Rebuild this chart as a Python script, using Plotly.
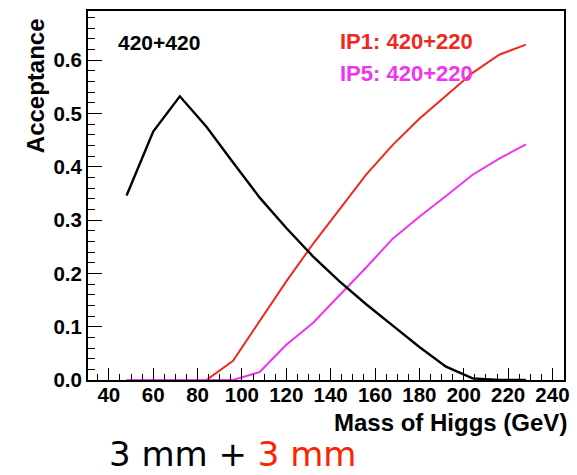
import plotly.graph_objects as go

# Higgs mass points (GeV)
mass = [48, 60, 72, 84, 96, 108, 120, 132, 144, 156, 168, 180, 192, 204, 216, 228]

# Acceptance for each configuration
acc_420_420 = [0.346, 0.466, 0.532, 0.475, 0.408, 0.342, 0.285, 0.232, 0.185, 0.142,
               0.102, 0.062, 0.025, 0.003, 0.0, 0.0]
acc_ip1_420_220 = [0.0, 0.0, 0.0, 0.0, 0.036, 0.110, 0.185, 0.255, 0.320, 0.385,
                   0.441, 0.490, 0.533, 0.576, 0.610, 0.629]
acc_ip5_420_220 = [0.0, 0.0, 0.0, 0.0, 0.0, 0.015, 0.066, 0.107, 0.158, 0.211,
                   0.265, 0.306, 0.345, 0.385, 0.415, 0.442]

x_ticks = [40, 60, 80, 100, 120, 140, 160, 180, 200, 220, 240]
y_ticks = [0.0, 0.1, 0.2, 0.3, 0.4, 0.5, 0.6]

RED = "#f0281e"
MAGENTA = "#f034f0"
FONT = "Liberation Sans, Arial, Helvetica, sans-serif"

fig = go.Figure()
fig.add_trace(go.Scatter(x=mass, y=acc_ip1_420_220, mode="lines",
                         line=dict(color=RED, width=2), name="IP1: 420+220"))
fig.add_trace(go.Scatter(x=mass, y=acc_ip5_420_220, mode="lines",
                         line=dict(color=MAGENTA, width=2), name="IP5: 420+220"))
fig.add_trace(go.Scatter(x=mass, y=acc_420_420, mode="lines",
                         line=dict(color="black", width=2.4), name="420+420"))

fig.update_layout(
    width=577, height=475,
    margin=dict(l=88, r=8, t=11, b=95),
    paper_bgcolor="white", plot_bgcolor="white",
    showlegend=False,
    font=dict(family=FONT, color="black"),
)

fig.update_xaxes(
    range=[30.6, 245.2],
    tickvals=x_ticks, ticktext=[str(v) for v in x_ticks],
    ticks="inside", ticklen=12, tickwidth=1.3, tickcolor="black",
    minor=dict(ticks="inside", dtick=5, tick0=0, ticklen=6, tickwidth=1, tickcolor="black"),
    showline=True, linecolor="black", linewidth=2, mirror=True,
    showgrid=False, zeroline=False,
    ticklabelstandoff=-5,
    tickfont=dict(family=FONT, size=20.5, color="black", weight="bold"),
)
fig.update_yaxes(
    range=[0, 0.692],
    tickvals=y_ticks, ticktext=[f"{v:.1f}" for v in y_ticks],
    ticks="inside", ticklen=14, tickwidth=1.3, tickcolor="black",
    minor=dict(ticks="inside", dtick=0.02, tick0=0, ticklen=7, tickwidth=1, tickcolor="black"),
    showline=True, linecolor="black", linewidth=2, mirror=True,
    showgrid=False, zeroline=False,
    tickfont=dict(family=FONT, size=20.5, color="black", weight="bold"),
)

annotations = [
    dict(text="<b>Acceptance</b>", xref="paper", yref="paper", x=-0.111, y=0.985,
         xanchor="center", yanchor="top", textangle=-90, showarrow=False,
         font=dict(family=FONT, size=24, color="black")),
    dict(text="<b>Mass of Higgs (GeV)</b>", xref="paper", yref="paper", x=1.0, y=-0.073,
         xanchor="right", yanchor="top", showarrow=False, xshift=5,
         font=dict(family=FONT, size=24, color="black")),
    dict(text="<b>420+420</b>", xref="x", yref="y", x=43, y=0.632,
         xanchor="left", yanchor="middle", showarrow=False,
         font=dict(family=FONT, size=21, color="black")),
    dict(text="<b>IP1: 420+220</b>", xref="x", yref="y", x=143.5, y=0.634,
         xanchor="left", yanchor="middle", showarrow=False,
         font=dict(family=FONT, size=22, color=RED)),
    dict(text="<b>IP5: 420+220</b>", xref="x", yref="y", x=143.5, y=0.574,
         xanchor="left", yanchor="middle", showarrow=False,
         font=dict(family=FONT, size=22, color=MAGENTA)),
    dict(text="3 mm + <span style='color:#ff2200'>3 mm</span>", xref="paper", yref="paper",
         x=0.0416, y=-0.2005, xanchor="left", yanchor="middle", showarrow=False,
         borderpad=0,
         font=dict(family="DejaVu Sans, sans-serif", size=34, color="black")),
]
fig.update_layout(annotations=annotations)

fig.write_html("out.html")
